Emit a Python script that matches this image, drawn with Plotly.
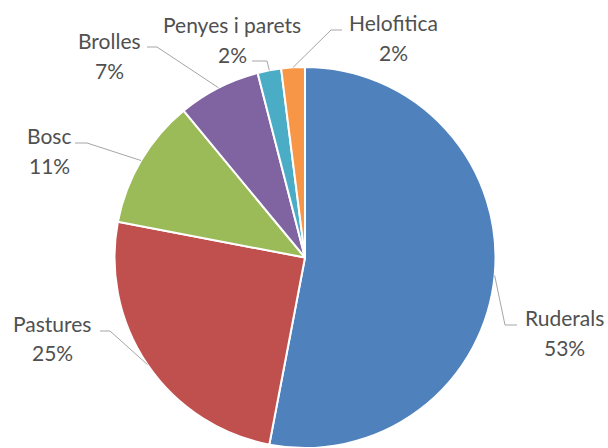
import math
import plotly.graph_objects as go

# Habitat shares (percent), listed clockwise from 12 o'clock
habitats = ["Ruderals", "Pastures", "Bosc", "Brolles", "Penyes i parets", "Helofitica"]
shares = [53, 25, 11, 7, 2, 2]
colors = ["#4F81BD", "#C0504D", "#9BBB59", "#8064A2", "#4BACC6", "#F79646"]

W, H = 608, 448
CX, CY, R = 305, 257.5, 190.5   # pie centre and radius in pixels

# Label placement (pixels): text centre x, name y, percent y, elbow point, line end
label_layout = {
    "Ruderals":        dict(x=564, ny=317, py=347, elbow=(505, 325), end=(517, 325)),
    "Pastures":        dict(x=52,  ny=323, py=352, elbow=(110, 331), end=(100, 331)),
    "Bosc":            dict(x=49,  ny=135, py=165, elbow=(87, 143),  end=(75, 143)),
    "Brolles":         dict(x=109, ny=41,  py=71,  elbow=(157, 47),  end=(147, 47)),
    "Penyes i parets": dict(x=232, ny=24,  py=55,  elbow=(267, 61),  end=(252, 61)),
    "Helofitica":      dict(x=393, ny=22,  py=52,  elbow=(331, 30),  end=(342, 30)),
}


def px(x):
    return x / W


def py(y):
    return 1 - y / H


fig = go.Figure(
    go.Pie(
        labels=habitats,
        values=shares,
        sort=False,
        direction="clockwise",
        rotation=0,
        marker=dict(colors=colors, line=dict(color="white", width=2)),
        textinfo="none",
        hoverinfo="label+percent",
        domain=dict(x=[px(CX - R), px(CX + R)], y=[py(CY + R), py(CY - R)]),
        showlegend=False,
    )
)

text_font = dict(family="Lato, Carlito, Calibri, sans-serif", size=21, color="#505050")
line_style = dict(color="#A6A6A6", width=1)

total = sum(shares)
cum = 0.0
for name, val in zip(habitats, shares):
    mid = (cum + val / 2) / total * 2 * math.pi
    cum += val
    ax = CX + R * math.sin(mid)
    ay = CY - R * math.cos(mid)
    lay = label_layout[name]
    ex, ey = lay["elbow"]
    tx, ty = lay["end"]
    fig.add_shape(type="line", xref="paper", yref="paper",
                  x0=px(ax), y0=py(ay), x1=px(ex), y1=py(ey), line=line_style)
    fig.add_shape(type="line", xref="paper", yref="paper",
                  x0=px(ex), y0=py(ey), x1=px(tx), y1=py(ty), line=line_style)
    pct = round(val / total * 100)
    fig.add_annotation(x=px(lay["x"]), y=py(lay["ny"]), xref="paper", yref="paper",
                       text=name, showarrow=False, xanchor="center", yanchor="middle",
                       font=text_font)
    fig.add_annotation(x=px(lay["x"]), y=py(lay["py"]), xref="paper", yref="paper",
                       text=f"{pct}%", showarrow=False, xanchor="center", yanchor="middle",
                       font=text_font)

fig.update_layout(
    width=W,
    height=H,
    margin=dict(l=0, r=0, t=0, b=0),
    paper_bgcolor="white",
    plot_bgcolor="white",
)

fig.write_html("out.html")
